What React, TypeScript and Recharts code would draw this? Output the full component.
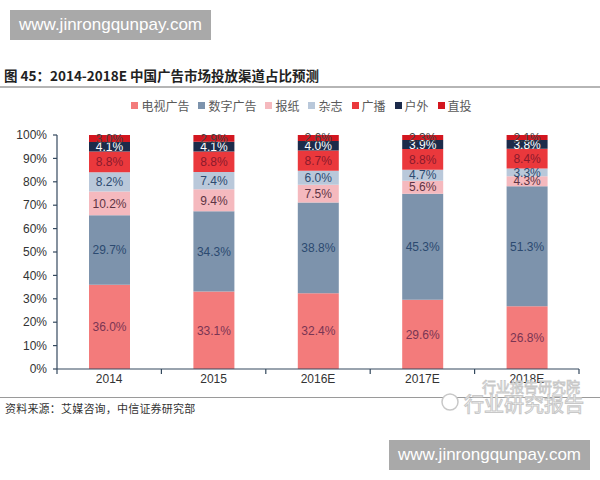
import React from "react";
import { BarChart, Bar, XAxis, YAxis, LabelList } from "recharts";

const years = ["2014", "2015", "2016E", "2017E", "2018E"];
const tv = [36.0, 33.1, 32.4, 29.6, 26.8];
const digital = [29.7, 34.3, 38.8, 45.3, 51.3];
const newspaper = [10.2, 9.4, 7.5, 5.6, 4.3];
const magazine = [8.2, 7.4, 6.0, 4.7, 3.3];
const radio = [8.8, 8.8, 8.7, 8.8, 8.4];
const outdoor = [4.1, 4.1, 4.0, 3.9, 3.8];
const direct = [3.0, 2.9, 2.6, 2.3, 2.1];
const yTicks = [0, 10, 20, 30, 40, 50, 60, 70, 80, 90, 100];

const seriesDefs = [
  { key: "tv", name: "电视广告", color: "#f37b7b", label: "#7a3553" },
  { key: "digital", name: "数字广告", color: "#7d93ac", label: "#2c4a70" },
  { key: "newspaper", name: "报纸", color: "#f5b9be", label: "#5e3444" },
  { key: "magazine", name: "杂志", color: "#b9c8da", label: "#2c4a70" },
  { key: "radio", name: "广播", color: "#ea383c", label: "#8a1a2c" },
  { key: "outdoor", name: "户外", color: "#1c2b4a", label: "#ffffff" },
  { key: "direct", name: "直投", color: "#d3161f", label: "#444444" },
];

const data = years.map((y, i) => ({
  year: y,
  tv: tv[i],
  digital: digital[i],
  newspaper: newspaper[i],
  magazine: magazine[i],
  radio: radio[i],
  outdoor: outdoor[i],
  direct: direct[i],
}));

const AXIS = "#34495e";
const FONT = "'Liberation Sans', Arial, sans-serif";
const CJK = "'Noto Sans CJK SC', sans-serif";

const XTick = (props: any) => {
  const { x, y, payload, index } = props;
  const off = payload && typeof payload.offset === "number" && payload.offset > 0 ? payload.offset : 52.2;
  return (
    <g>
      {index === 0 && <line x1={x - off} x2={x - off} y1={y} y2={y + 5} stroke={AXIS} strokeWidth={1.2} />}
      <line x1={x + off} x2={x + off} y1={y} y2={y + 5} stroke={AXIS} strokeWidth={1.2} />
      <text x={x} y={y + 14} textAnchor="middle" fontSize={12} fill="#333" fontFamily={FONT}>
        {payload.value}
      </text>
    </g>
  );
};

export default function App() {
  return (
    <div style={{ position: "absolute", left: 0, top: 0, width: 600, height: 480, background: "#fff", overflow: "hidden" }}>
      <div style={{ position: "absolute", left: 10, top: 10, width: 201, height: 30, background: "#a9a9a9", color: "#fff", fontFamily: FONT, fontSize: 17, lineHeight: "30px", textAlign: "center" }}>
        www.jinrongqunpay.com
      </div>
      <div style={{ position: "absolute", left: 4, top: 65, fontFamily: CJK, fontSize: 13.5, fontWeight: 700, color: "#222", whiteSpace: "nowrap" }}>
        图 45：2014-2018E 中国广告市场投放渠道占比预测
      </div>
      <div style={{ position: "absolute", left: 0, top: 86, width: 600, height: 2, background: "#b5b5b5" }} />
      <div style={{ position: "absolute", top: 97, left: 6, width: 600, display: "flex", justifyContent: "center", alignItems: "center", fontFamily: CJK, fontSize: 12, color: "#595959" }}>
        {seriesDefs.map((s) => (
          <div key={s.key} style={{ display: "flex", alignItems: "center", marginRight: 9 }}>
            <span style={{ width: 7, height: 7, background: s.color, display: "inline-block", marginRight: 3 }} />
            <span>{s.name}</span>
          </div>
        ))}
      </div>
      <BarChart width={600} height={480} data={data} margin={{ top: 135, right: 21, bottom: 91, left: 0 }}>
        <XAxis dataKey="year" height={20} tickSize={0} tickMargin={0} tick={<XTick />} stroke={AXIS} strokeWidth={1.2} interval={0} />
        <YAxis
          width={57}
          domain={[0, 100]}
          ticks={yTicks}
          allowDataOverflow
          tickFormatter={(v: number) => `${v}%`}
          tick={{ fontSize: 12, fill: "#333", fontFamily: FONT }}
          tickSize={4}
          tickMargin={6}
          stroke={AXIS}
          strokeWidth={1.2}
          tickLine={{ stroke: AXIS }}
        />
        {seriesDefs.map((s) => (
          <Bar key={s.key} dataKey={s.key} name={s.name} stackId="a" fill={s.color} barSize={41} isAnimationActive={false}>
            <LabelList
              dataKey={s.key}
              position="center"
              formatter={(v: any) => `${Number(v).toFixed(1)}%`}
              style={{ fontSize: 12, fontFamily: FONT, fill: s.label }}
              fill={s.label}
            />
          </Bar>
        ))}
      </BarChart>
      <div style={{ position: "absolute", left: 0, top: 397, width: 600, height: 1, background: "#9a9a9a" }} />
      <div style={{ position: "absolute", left: 5, top: 400, fontFamily: CJK, fontSize: 11, color: "#333", whiteSpace: "nowrap", letterSpacing: 0.2 }}>
        资料来源：艾媒咨询，中信证券研究部
      </div>
      <svg width={600} height={480} style={{ position: "absolute", left: 0, top: 0, pointerEvents: "none" }}>
        <circle cx={450} cy={402} r={8} fill="#fff" stroke="#c8c8c8" strokeWidth={1.5} />
        <text x={482} y={392} fontSize={14} fontFamily={CJK} fill="#fff" stroke="#c8c8c8" strokeWidth={0.8}>行业报告研究院</text>
        <text x={464} y={412} fontSize={20} fontFamily={CJK} fill="#fff" stroke="#c8c8c8" strokeWidth={1}>行业研究报告</text>
      </svg>
      <div style={{ position: "absolute", left: 389, top: 440, width: 201, height: 30, background: "#a9a9a9", color: "#fff", fontFamily: FONT, fontSize: 17, lineHeight: "30px", textAlign: "center" }}>
        www.jinrongqunpay.com
      </div>
    </div>
  );
}
